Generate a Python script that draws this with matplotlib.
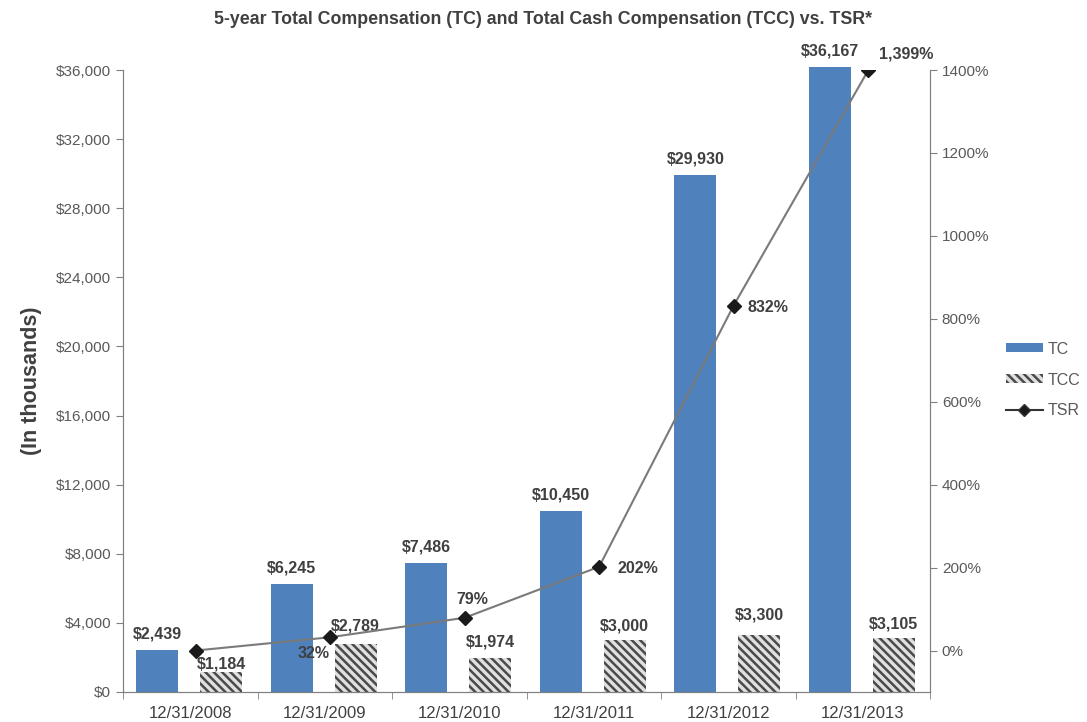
import matplotlib
matplotlib.use("Agg")
import matplotlib.pyplot as plt
import numpy as np
from matplotlib.ticker import FuncFormatter, FixedLocator
from matplotlib.patches import Patch
from matplotlib.lines import Line2D

categories = ["12/31/2008", "12/31/2009", "12/31/2010", "12/31/2011", "12/31/2012", "12/31/2013"]
tc = [2439, 6245, 7486, 10450, 29930, 36167]
tcc = [1184, 2789, 1974, 3000, 3300, 3105]
tsr = [0, 32, 79, 202, 832, 1399]
tsr_labels = ["", "32%", "79%", "202%", "832%", "1,399%"]

plt.rcParams['font.family'] = ['Liberation Sans', 'DejaVu Sans']
plt.rcParams['hatch.linewidth'] = 1.8

fig = plt.figure(figsize=(10.87, 7.22), dpi=100)
ax = fig.add_axes([123/1087, 1-692/722, (930-123)/1087, (692-70)/722])
ax2 = ax.twinx()

x = np.arange(len(categories))
w = 0.31
grey = "#808080"
lab = "#404040"

ax.bar(x - 0.245, tc, w, color="#4F81BD", clip_on=False, zorder=2)
ax.bar(x + 0.23, tcc, w, color="#e0e0e0", edgecolor="#4a4a4a", linewidth=0,
       hatch="\\\\\\\\", zorder=2)

tcc_gap = [0, 600, 500, 400, 700, 400]
for i in range(len(x)):
    ax.text(x[i] - 0.245, tc[i] + 500, f"${tc[i]:,}", ha="center", va="bottom",
            fontsize=11.5, fontweight="bold", color=lab)
    ax.text(x[i] + 0.23, tcc[i] + tcc_gap[i], f"${tcc[i]:,}", ha="center", va="bottom",
            fontsize=11.5, fontweight="bold", color=lab)

ax.set_xlim(-0.5, len(x) - 0.5)
ax.set_ylim(0, 36000)
ax.yaxis.set_major_locator(FixedLocator(np.arange(0, 36001, 4000)))
ax.yaxis.set_major_formatter(FuncFormatter(lambda v, p: f"${v:,.0f}"))
ax.set_xticks(x)
ax.set_xticklabels(categories)
ax.set_xticks(np.arange(-0.5, len(x), 1.0), minor=True)
ax.tick_params(axis="x", which="major", length=0, labelsize=12, labelcolor="#404040", pad=10)
ax.tick_params(axis="x", which="minor", length=5, color=grey, direction="out")
ax.tick_params(axis="y", length=5, color=grey, labelsize=11, labelcolor="#595959")

ax2.plot(x + 0.04, tsr, color="#7a7a7a", linewidth=1.5, marker="D", markersize=7,
         markerfacecolor="#1a1a1a", markeredgecolor="#1a1a1a", zorder=5, label="TSR")
ax2.set_ylim(-100, 1400)
ax2.yaxis.set_major_locator(FixedLocator(np.arange(0, 1401, 200)))
ax2.yaxis.set_major_formatter(FuncFormatter(lambda v, p: f"{v:.0f}%"))
ax2.tick_params(axis="y", length=5, color=grey, labelsize=11, labelcolor="#595959")

offsets = [(0, 0, "center"), (-0.12, -40, "center"), (0.06, 45, "center"),
           (0.14, -5, "left"), (0.1, -5, "left"), (0.08, 40, "left")]
for i in range(len(x)):
    if tsr_labels[i]:
        dx, dy, ha = offsets[i]
        ax2.text(x[i] + 0.04 + dx, tsr[i] + dy, tsr_labels[i], ha=ha, va="center",
                 fontsize=11.5, fontweight="bold", color=lab, zorder=6)

for a in (ax, ax2):
    a.spines["top"].set_visible(False)
    a.spines["left"].set_color(grey)
    a.spines["right"].set_color(grey)
    a.spines["bottom"].set_color(grey)

ax.set_ylabel("(In thousands)", fontsize=15.5, fontweight="bold", color="#404040", labelpad=10)

fig.text(0.5, 1-20/722, "5-year Total Compensation (TC) and Total Cash Compensation (TCC) vs. TSR*",
         ha="center", va="center", fontsize=12.8, fontweight="bold", color="#404040")

handles = [Patch(facecolor="#4F81BD"),
           Patch(facecolor="#e0e0e0", edgecolor="#4a4a4a", linewidth=0, hatch="\\\\\\\\"),
           Line2D([0], [0], color="#333333", marker="D", markersize=6, markerfacecolor="#1a1a1a")]
leg = fig.legend(handles, ["TC", "TCC", "TSR"], loc="center left",
                 bbox_to_anchor=(1006/1087, 1-380/722), frameon=False, fontsize=11.5,
                 handlelength=2.3, handleheight=0.5, labelspacing=1.0, handletextpad=0.3,
                 labelcolor="#595959", borderaxespad=0, borderpad=0)

fig.savefig("out.png", dpi=100)
